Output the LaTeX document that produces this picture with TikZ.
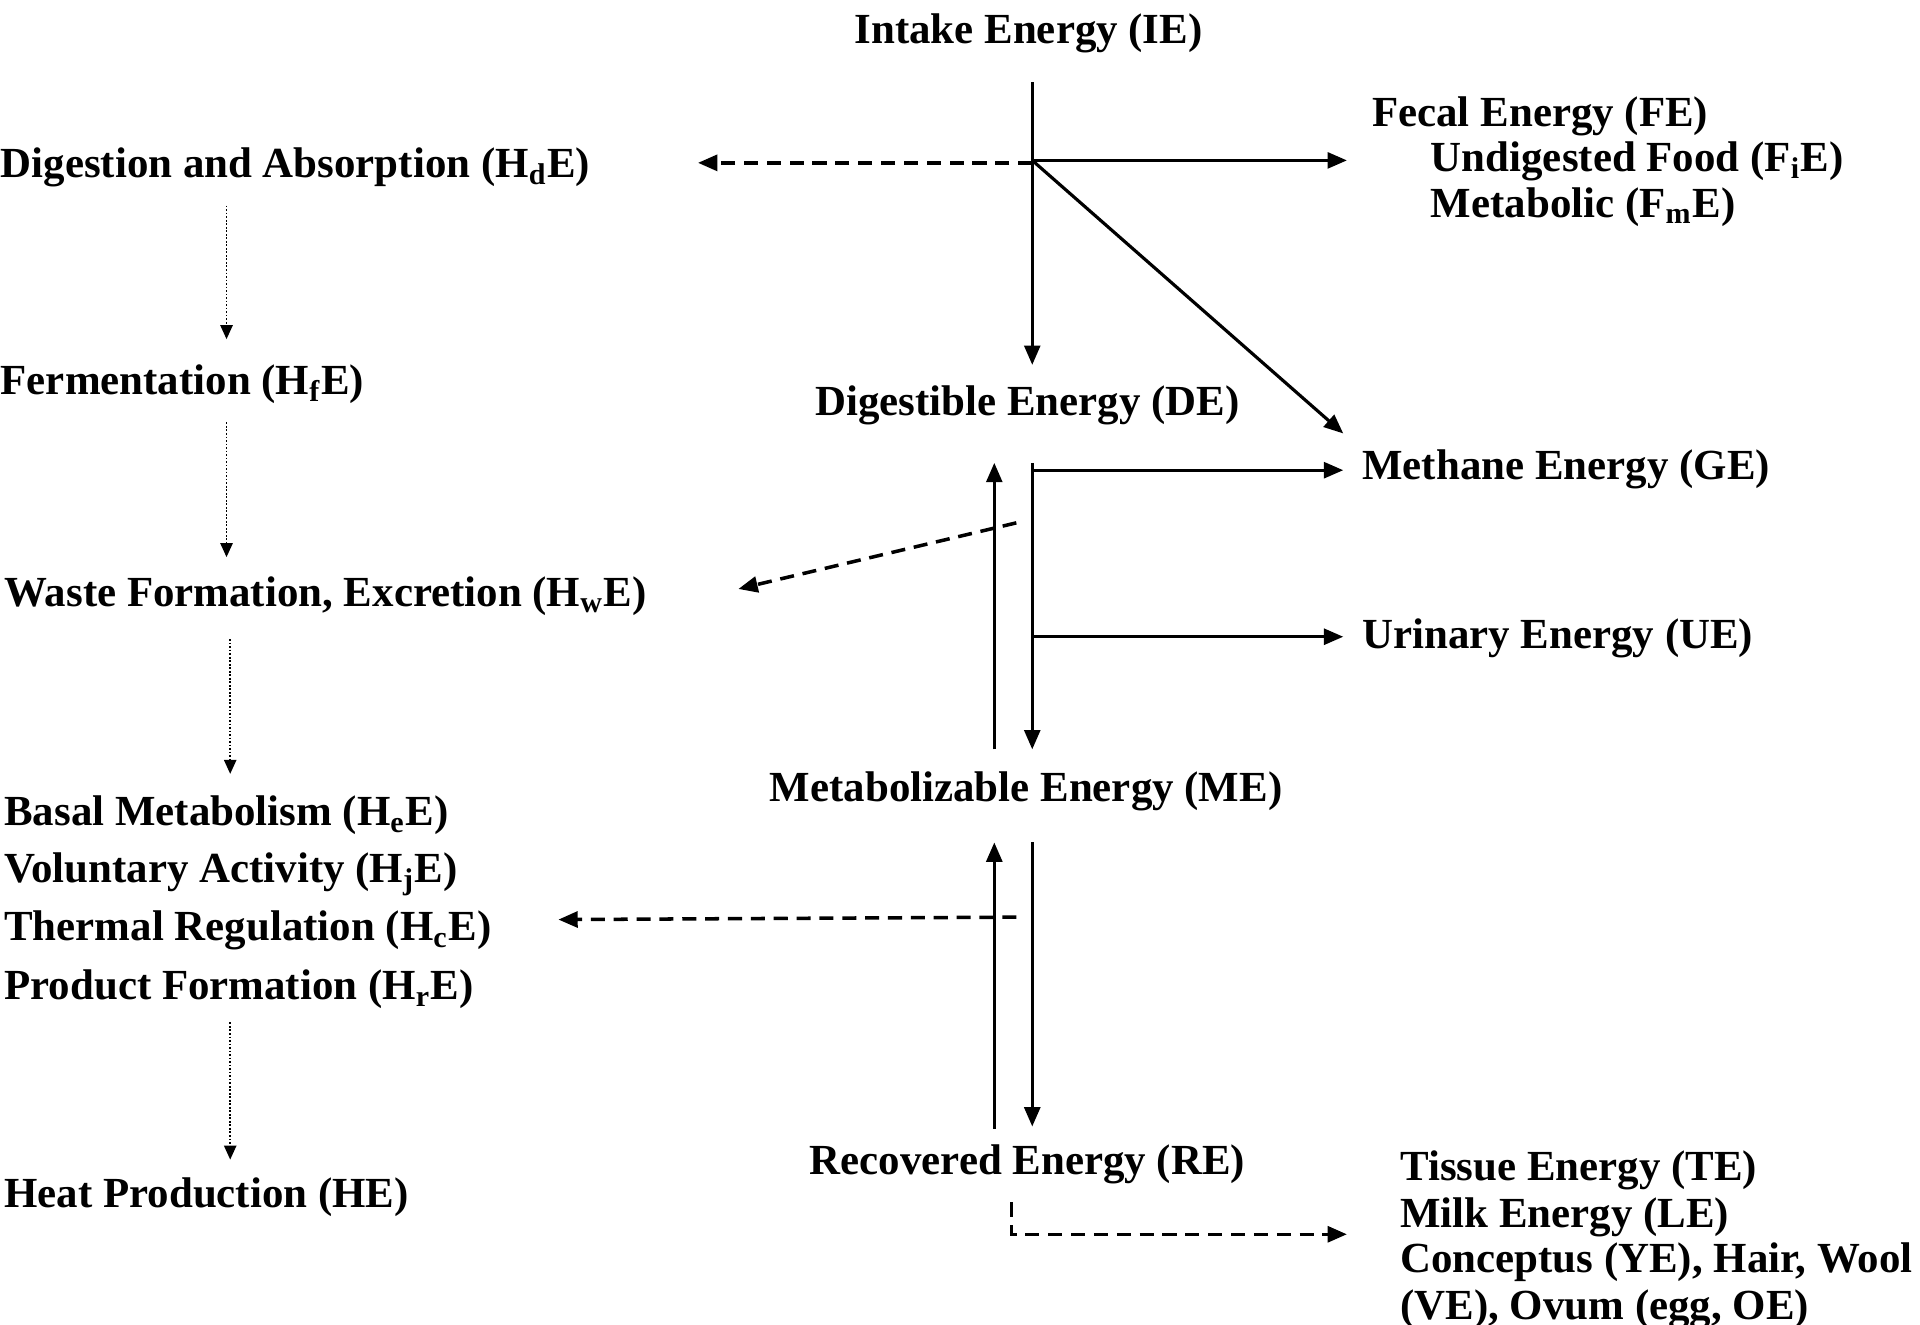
\documentclass[tikz,border=0pt]{standalone}
\usepackage{fontspec}
\setmainfont{Liberation Serif}
\usetikzlibrary{arrows.meta}
\newcommand{\sbs}[1]{\textsubscript{#1}}
\begin{document}
\begin{tikzpicture}[x=0.012245cm,y=-0.012245cm,
 lbl/.style={inner sep=0pt,font=\fontsize{12.2}{14}\selectfont\bfseries,yshift=-3*0.012245cm},
 lft/.style={lbl,anchor=west},
 ctr/.style={lbl,anchor=center},
 tip/.style={-{Triangle[length=5.5pt,width=4.5pt]}},
 flow/.style={line width=0.9pt,tip},
 plain/.style={line width=0.9pt},
 dsh/.style={line width=1pt,dash pattern=on 4pt off 2.5pt,tip},
 dotarrow/.style={line width=0.5pt,dash pattern=on 0.5pt off 0.5pt,-{Triangle[length=4pt,width=3.5pt]}}]
\fill[white] (0,0) rectangle (1568,1082);
\useasboundingbox (0,0) rectangle (1568,1082);

% centre column
\node[ctr] (ie) at (840,24) {Intake Energy (IE)};
\node[ctr] (de) at (839,328) {Digestible Energy (DE)};
\node[ctr] (me) at (838,643) {Metabolizable Energy (ME)};
\node[ctr] (re) at (839,948) {Recovered Energy (RE)};

% right column
\node[lft] (fe) at (1120,92) {Fecal Energy (FE)};
\node[lft] (fie) at (1168,129) {Undigested Food (F\sbs{i}E)};
\node[lft] (fme) at (1168,166) {Metabolic (F\sbs{m}E)};
\node[lft] (ge) at (1112,380) {Methane Energy (GE)};
\node[lft] (ue) at (1112,518) {Urinary Energy (UE)};
\node[lft] (te) at (1143,953) {Tissue Energy (TE)};
\node[lft] (le) at (1143,991) {Milk Energy (LE)};
\node[lft] (ye) at (1143,1028) {Conceptus (YE), Hair, Wool};
\node[lft] (oe) at (1143,1066) {(VE), Ovum (egg, OE)};

% left column
\node[lft] (hd) at (0,134) {Digestion and Absorption (H\sbs{d}E)};
\node[lft] (hf) at (0,311) {Fermentation (H\sbs{f}E)};
\node[lft] (hw) at (3,484) {Waste Formation, Excretion (H\sbs{w}E)};
\node[lft] (he) at (3,663) {Basal Metabolism (H\sbs{e}E)};
\node[lft] (hj) at (3,711) {Voluntary Activity (H\sbs{j}E)};
\node[lft] (hc) at (3,757) {Thermal Regulation (H\sbs{c}E)};
\node[lft] (hr) at (3,805) {Product Formation (H\sbs{r}E)};
\node[lft] (hp) at (3,975) {Heat Production (HE)};

% coordinates
\coordinate (t0) at (843,67);
\coordinate (j0) at (843,131);
\coordinate (deIn) at (843,298);
\coordinate (feIn) at (1100,131);
\coordinate (hdIn) at (570,133);
\coordinate (j0d) at (843,133);
\coordinate (geDiag) at (1097,354);

\coordinate (u1a) at (812,612);
\coordinate (u1b) at (812,378);
\coordinate (d1a) at (843,378);
\coordinate (d1b) at (843,612);
\coordinate (g1) at (843,384);
\coordinate (g2) at (1097,384);
\coordinate (w1) at (830,427);
\coordinate (w2) at (603,481);
\coordinate (e1) at (843,520);
\coordinate (e2) at (1097,520);

\coordinate (u2a) at (812,922);
\coordinate (u2b) at (812,688);
\coordinate (d2a) at (843,688);
\coordinate (d2b) at (843,920);
\coordinate (m1) at (830,749);
\coordinate (m2) at (456,751);

\coordinate (r1) at (826,982);
\coordinate (r2) at (826,1008);
\coordinate (r3) at (1100,1008);

\coordinate (p1a) at (185,168); \coordinate (p1b) at (185,277);
\coordinate (p2a) at (185,345); \coordinate (p2b) at (185,455);
\coordinate (p3a) at (188,522); \coordinate (p3b) at (188,632);
\coordinate (p4a) at (188,835); \coordinate (p4b) at (188,947);

% connectors
\draw[flow] (t0) -- (deIn);
\draw[flow] (j0) -- (feIn);
\draw[flow] (j0) -- (geDiag);
\draw[dsh] (j0d) -- (hdIn);

\draw[flow] (u1a) -- (u1b);
\draw[flow] (d1a) -- (d1b);
\draw[flow] (g1) -- (g2);
\draw[flow] (e1) -- (e2);
\draw[dsh] (w1) -- (w2);

\draw[flow] (u2a) -- (u2b);
\draw[flow] (d2a) -- (d2b);
\draw[dsh] (m1) -- (m2);

\draw[dsh] (r1) -- (r2) -- (r3);

\draw[dotarrow] (p1a) -- (p1b);
\draw[dotarrow] (p2a) -- (p2b);
\draw[dotarrow] (p3a) -- (p3b);
\draw[dotarrow] (p4a) -- (p4b);
\end{tikzpicture}
\end{document}
